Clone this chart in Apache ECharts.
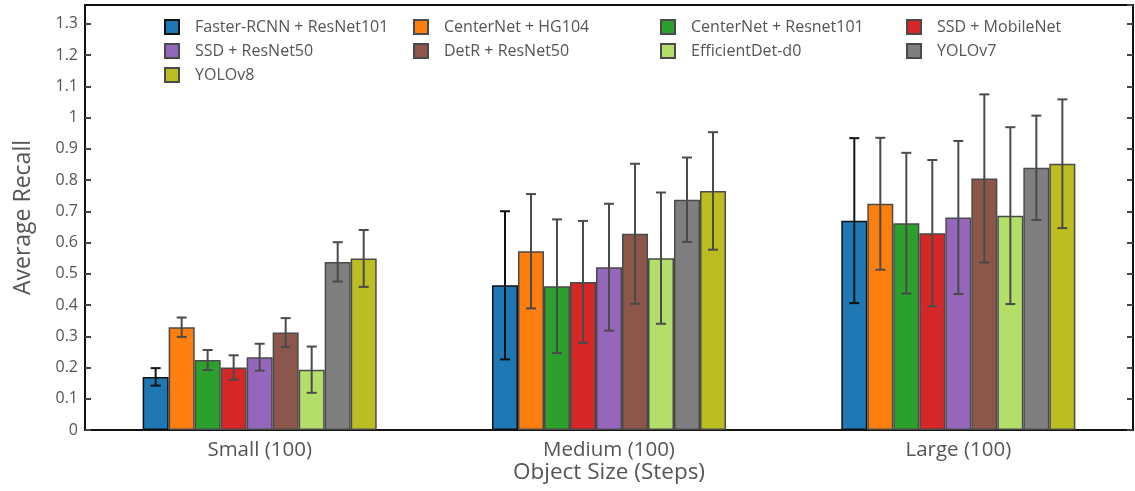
<!DOCTYPE html>
<html>
<head>
<meta charset="utf-8">
<script src="https://cdn.jsdelivr.net/npm/echarts@6/dist/echarts.min.js"></script>
<style>
  html, body { margin: 0; padding: 0; background: #fff; }
  #chart { width: 1135px; height: 491px; }
</style>
</head>
<body>
<div id="chart"></div>
<script>
// Object-size groups on the x axis
const categories = ['Small (100)', 'Medium (100)', 'Large (100)'];

// Detector names, in drawing order
const models = [
  'Faster-RCNN + ResNet101', 'CenterNet + HG104', 'CenterNet + Resnet101',
  'SSD + MobileNet', 'SSD + ResNet50', 'DetR + ResNet50',
  'EfficientDet-d0', 'YOLOv7', 'YOLOv8'
];

// Mean average recall per model: [Small, Medium, Large]
const recallFasterRcnn   = [0.170, 0.463, 0.670];
const recallCenterHG     = [0.329, 0.572, 0.724];
const recallCenterRes    = [0.224, 0.460, 0.662];
const recallSsdMobile    = [0.200, 0.474, 0.630];
const recallSsdRes       = [0.233, 0.521, 0.680];
const recallDetr         = [0.312, 0.628, 0.805];
const recallEfficientDet = [0.193, 0.550, 0.686];
const recallYolov7       = [0.538, 0.737, 0.839];
const recallYolov8       = [0.549, 0.765, 0.852];

// Half-length of each error bar: [Small, Medium, Large]
const errFasterRcnn   = [0.028, 0.237, 0.264];
const errCenterHG     = [0.031, 0.183, 0.211];
const errCenterRes    = [0.032, 0.214, 0.225];
const errSsdMobile    = [0.039, 0.195, 0.234];
const errSsdRes       = [0.043, 0.203, 0.245];
const errDetr         = [0.046, 0.224, 0.269];
const errEfficientDet = [0.074, 0.210, 0.283];
const errYolov7       = [0.063, 0.135, 0.167];
const errYolov8       = [0.091, 0.188, 0.206];

// Y-axis ticks
const yMin = 0;
const yMax = 1.36;
const yStep = 0.1;

const recallSets = [recallFasterRcnn, recallCenterHG, recallCenterRes, recallSsdMobile,
  recallSsdRes, recallDetr, recallEfficientDet, recallYolov7, recallYolov8];
const errSets = [errFasterRcnn, errCenterHG, errCenterRes, errSsdMobile,
  errSsdRes, errDetr, errEfficientDet, errYolov7, errYolov8];

const colors = ['#1f77b4', '#ff7f0e', '#2ca02c', '#d62728', '#9467bd',
  '#8c564b', '#b3de69', '#7f7f7f', '#bcbd22'];
const edgeColors = ['#111111', '#4a4a4a', '#4a4a4a', '#4a4a4a', '#4a4a4a',
  '#4a4a4a', '#4a4a4a', '#4a4a4a', '#4a4a4a'];

const FONT = '"Open Sans", "Noto Sans", sans-serif';
const TEXT = '#555555';
const GAP_PCT = 0.33;
const nModels = models.length;

const barSeries = models.map((name, i) => ({
  name: name,
  type: 'bar',
  data: recallSets[i],
  barGap: '0%',
  barCategoryGap: (GAP_PCT * 100) + '%',
  itemStyle: { color: colors[i], borderColor: edgeColors[i], borderWidth: 1.5 },
  emphasis: { disabled: true },
  z: 2
}));

// Error bars for each model, placed over the matching bar in its group
const errorSeries = models.map((name, i) => ({
  name: name,
  type: 'custom',
  data: categories.map((c, k) => [k, recallSets[i][k] - errSets[i][k], recallSets[i][k] + errSets[i][k]]),
  encode: { x: 0, y: [1, 2] },
  z: 5,
  silent: true,
  renderItem: function (params, api) {
    const k = api.value(0);
    const lo = api.coord([k, api.value(1)]);
    const hi = api.coord([k, api.value(2)]);
    const band = api.size([1, 0])[0];
    const w = band * (1 - GAP_PCT) / nModels;
    const x = lo[0] + (i - (nModels - 1) / 2) * w;
    const cap = 5;
    const style = { stroke: edgeColors[i], lineWidth: 2 };
    return {
      type: 'group',
      children: [
        { type: 'line', shape: { x1: x, y1: lo[1], x2: x, y2: hi[1] }, style: style },
        { type: 'line', shape: { x1: x - cap, y1: hi[1], x2: x + cap, y2: hi[1] }, style: style },
        { type: 'line', shape: { x1: x - cap, y1: lo[1], x2: x + cap, y2: lo[1] }, style: style }
      ]
    };
  }
}));

// Legend laid out in four columns
const legendCols = [
  { left: 159, data: [models[0], models[4], models[8]] },
  { left: 408, data: [models[1], models[5]] },
  { left: 655, data: [models[2], models[6]] },
  { left: 901, data: [models[3], models[7]] }
];

const legends = legendCols.map(col => ({
  orient: 'vertical',
  left: col.left,
  top: 14,
  data: col.data,
  icon: 'rect',
  itemWidth: 14,
  itemHeight: 14,
  itemGap: 8,
  selectedMode: false,
  textStyle: { fontFamily: FONT, fontSize: 16, color: TEXT, padding: [0, 0, 0, 11], lineHeight: 14 }
}));

const chart = echarts.init(document.getElementById('chart'), null, { renderer: 'canvas' });
chart.setOption({
  animation: false,
  backgroundColor: '#ffffff',
  legend: legends,
  grid: {
    left: 85, right: 2, top: 5, bottom: 61,
    outerBoundsMode: 'none',
    containLabel: false,
    show: true, borderColor: '#111111', borderWidth: 2, backgroundColor: 'transparent'
  },
  xAxis: {
    type: 'category',
    data: categories,
    name: 'Object Size (Steps)',
    nameLocation: 'middle',
    nameGap: 31,
    nameMoveOverlap: false,
    nameTextStyle: { fontFamily: FONT, fontSize: 22.5, color: TEXT, lineHeight: 24 },
    axisLine: { show: true, lineStyle: { color: '#111111', width: 2 } },
    axisTick: { show: true, inside: true, alignWithLabel: true, length: 6, lineStyle: { color: '#444444', width: 2 } },
    axisLabel: { fontFamily: FONT, fontSize: 20.5, color: TEXT, margin: 10, lineHeight: 20 },
    splitLine: { show: false }
  },
  yAxis: [
    {
      type: 'value',
      min: yMin, max: yMax, interval: yStep,
      name: 'Average Recall',
      nameLocation: 'middle',
      nameGap: 50,
      nameRotate: 90,
      nameTextStyle: { fontFamily: FONT, fontSize: 23, color: TEXT },
      axisLine: { show: true, lineStyle: { color: '#111111', width: 2 } },
      axisTick: { show: true, inside: true, length: 6, lineStyle: { color: '#444444', width: 2 } },
      axisLabel: {
        fontFamily: FONT, fontSize: 16, color: TEXT, margin: 7, showMaxLabel: false,
        formatter: v => String(Math.round(v * 10) / 10)
      },
      splitLine: { show: false }
    },
    {
      type: 'value',
      position: 'right',
      min: yMin, max: yMax, interval: yStep,
      axisLine: { show: true, lineStyle: { color: '#111111', width: 2 } },
      axisTick: { show: true, inside: true, length: 6, lineStyle: { color: '#444444', width: 2 } },
      axisLabel: { show: false },
      splitLine: { show: false }
    }
  ],
  series: barSeries.concat(errorSeries)
});
</script>
</body>
</html>
